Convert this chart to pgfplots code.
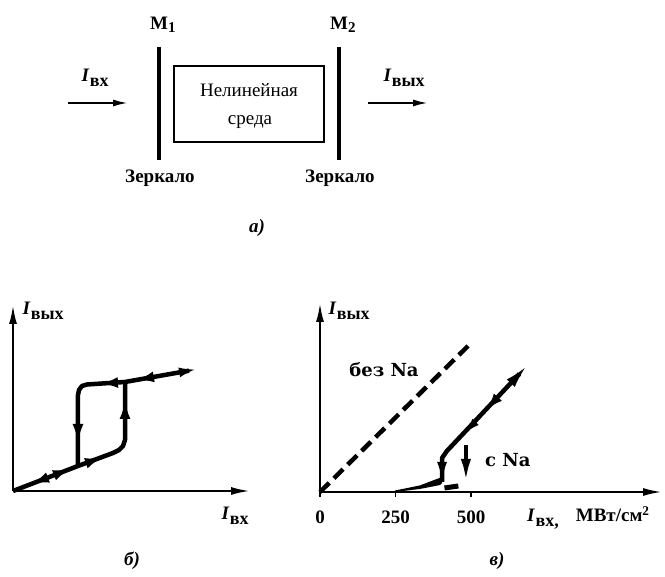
\documentclass[border=0pt]{standalone}
\usepackage{pgfplots}
\pgfplotsset{compat=1.18}
\usepackage{fontspec}
\setmainfont{Liberation Serif}
\newfontfamily\dv{DejaVu Serif}
\usetikzlibrary{arrows.meta}
\newcommand{\sz}{\fontsize{19}{22}\selectfont}
\newcommand{\Iv}[1]{\textbf{\textit{I}}\kern0.5pt\raisebox{-5pt}{\fontsize{18}{18}\selectfont\bfseries #1}}
\begin{document}
\begin{tikzpicture}[x=1pt,y=1pt,font=\sz]
\path[use as bounding box] (0,0) rectangle (665,577);
% ---------- (a) scheme ----------
\draw[line width=3.4pt] (159,577-47) -- (159,577-160);
\draw[line width=3.4pt] (339,577-47) -- (339,577-160);
\draw[line width=2.2pt] (174,577-66) rectangle (324,577-142);
\draw[line width=2pt,-{Latex[length=15pt,width=7pt]}] (68,577-103) -- (128,577-103);
\draw[line width=2pt,-{Latex[length=15pt,width=7pt]}] (368,577-103) -- (428,577-103);
\node[anchor=base west] at (78,577-82) {\Iv{вх}};
\node[anchor=base west] at (380,577-82) {\Iv{вых}};
\node[anchor=base west,inner sep=0pt] at (150,577-30) {\textbf{M}\raisebox{-3pt}{\fontsize{15}{15}\selectfont\bfseries 1}};
\node[anchor=base west,inner sep=0pt] at (330,577-30) {\textbf{M}\raisebox{-3pt}{\fontsize{15}{15}\selectfont\bfseries 2}};
\node[anchor=base] at (249,577-97) {Нелинейная};
\node[anchor=base] at (250,577-125) {среда};
\node[anchor=base] at (160,577-183) {\textbf{Зеркало}};
\node[anchor=base] at (340,577-183) {\textbf{Зеркало}};
\node[anchor=base] at (257,577-233) {\textbf{\textit{а)}}};
% ---------- (б) ----------
\begin{axis}[at={(13pt,86pt)}, anchor=south west, scale only axis, width=237pt, height=186pt,
  xmin=0, xmax=237, ymin=0, ymax=186,
  axis lines=left, xtick=\empty, ytick=\empty, clip=false,
  axis line style={line width=2.2pt, -{Latex[length=19pt,width=8pt]}}]
\addplot[line width=4.5pt, line join=round] coordinates {(0,0) (65,25) (100,38) (106,41) (110,45) (112,51) (112,109)};
\addplot[line width=4.5pt, line join=round] coordinates {(65,25) (65,96) (66,101) (69,105) (74,106.5) (112,109) (176,120.3)};
\addplot[line width=2pt, -{Latex[length=16pt,width=11pt]}] coordinates {(38,14.6) (20,7.7)};
\addplot[line width=2pt, -{Latex[length=16pt,width=11pt]}] coordinates {(38,14.6) (56,21.5)};
\addplot[line width=2pt, -{Latex[length=16pt,width=11pt]}] coordinates {(70,26.8) (88,33)};
\addplot[line width=2pt, -{Latex[length=17pt,width=11pt]}] coordinates {(65,74) (65,50)};
\addplot[line width=2pt, -{Latex[length=17pt,width=11pt]}] coordinates {(112,64) (112,89)};
\addplot[line width=2pt, -{Latex[length=16pt,width=11pt]}] coordinates {(106,108.5) (89,107.4)};
\addplot[line width=2pt, -{Latex[length=16pt,width=11pt]}] coordinates {(142,114.3) (125,111.3)};
\addplot[line width=2pt, -{Latex[length=16pt,width=10pt]}] coordinates {(150,115.8) (182,121.4)};
\end{axis}
\node[anchor=base west] at (19,577-315) {\Iv{вых}};
\node[anchor=base west] at (218,577-520) {\Iv{вх}};
\node[anchor=base] at (132,577-566) {\textbf{\textit{б)}}};
% ---------- (в) ----------
\begin{axis}[at={(320pt,85pt)}, anchor=south west, scale only axis, width=342pt, height=189pt,
  xmin=0, xmax=1132, ymin=0, ymax=189,
  axis lines=left, ytick=\empty, clip=false,
  xtick={0,250,500}, xticklabels={\textbf{0},\textbf{250},\textbf{500}},
  xticklabel style={font=\sz, yshift=-10pt},
  tick align=outside, major tick length=5pt, tick style={line width=1.2pt, black},
  axis line style={line width=2.2pt, -{Latex[length=19pt,width=8pt]}}]
\addplot[line width=4.5pt, dash pattern=on 13pt off 6.5pt] coordinates {(0,0) (500,149)};
\addplot[fill=black, draw=none] coordinates {(248,0) (330,3) (398,7) (404,9) (404,15) (330,6.5) (248,1.5) (248,0)};
\addplot[line width=4.5pt, line join=round] coordinates {(404,10) (404,34) (420,41) (660,118)};
\addplot[line width=2.5pt, -{Latex[length=22pt,width=11pt]}] coordinates {(600,98.5) (681,125)};
\addplot[line width=2pt, -{Latex[length=16pt,width=11pt]}] coordinates {(600,98.5) (553,83)};
\addplot[line width=2pt, -{Latex[length=14pt,width=9pt]}] coordinates {(530,75) (483,59.8)};
\addplot[line width=2pt, -{Latex[length=18pt,width=10pt]}] coordinates {(404,36) (404,12)};
\addplot[line width=5pt] coordinates {(412,4) (458,6)};
\addplot[line width=4pt, -{Latex[length=24pt,width=10pt]}] coordinates {(483,47) (483,9)};
\end{axis}
\node[anchor=base west] at (325,577-315) {\Iv{вых}};
\node[anchor=base west,inner sep=0pt] at (527,577-522) {\Iv{вх,}\hspace{17pt}\textbf{МВт/см\textsuperscript{2}}};
\node[anchor=base] at (384,577-377) {\fontsize{18}{20}\selectfont\dv\bfseries без Na};
\node[anchor=base west,inner sep=0pt] at (485,577-467) {\fontsize{18}{20}\selectfont\dv\bfseries с Na};
\node[anchor=base] at (497,577-566) {\textbf{\textit{в)}}};
\end{tikzpicture}
\end{document}
